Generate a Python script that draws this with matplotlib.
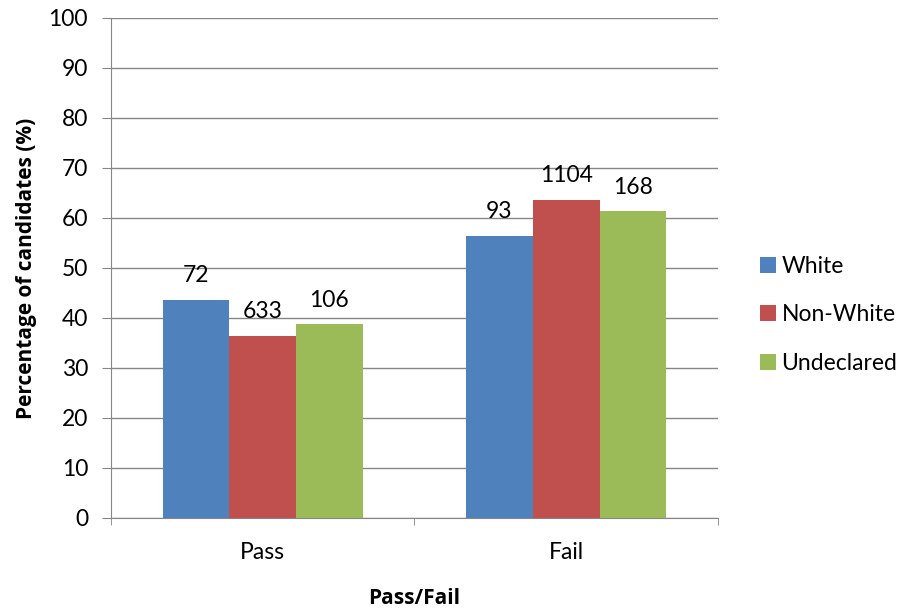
import matplotlib.pyplot as plt
import numpy as np

plt.rcParams['font.family'] = ['Lato', 'DejaVu Sans']

categories = ["Pass", "Fail"]
series_names = ["White", "Non-White", "Undeclared"]
white = [43.6, 56.4]
non_white = [36.4, 63.6]
undeclared = [38.7, 61.3]
white_counts = [72, 93]
non_white_counts = [633, 1104]
undeclared_counts = [106, 168]

colors = ["#4F81BD", "#C0504D", "#9BBB59"]
grid_col = "#868686"
fs = 16.5

fig = plt.figure(figsize=(9.11, 6.12), dpi=100)
ax = fig.add_axes([0.1218, 0.1536, 0.6663, 0.817])

x = np.arange(len(categories))
width = 0.22
values = [white, non_white, undeclared]
counts = [white_counts, non_white_counts, undeclared_counts]
for i, (vals, cnts) in enumerate(zip(values, counts)):
    pos = x + (i - 1) * width
    bars = ax.bar(pos, vals, width, color=colors[i], label=series_names[i], zorder=3)
    for b, c in zip(bars, cnts):
        ax.annotate(str(c), (b.get_x() + b.get_width() / 2, b.get_height()),
                    xytext=(0, 10), textcoords="offset points",
                    ha="center", va="bottom", fontsize=fs)

ax.set_xlim(-0.5, 1.5)
ax.set_ylim(0, 100)
ax.set_yticks(range(0, 101, 10))
ax.yaxis.grid(True, color=grid_col, linewidth=1, zorder=0)
ax.set_xticks(x)
ax.set_xticklabels(categories)
ax.set_xticks([-0.5, 0.5, 1.5], minor=True)
ax.tick_params(axis="x", which="major", length=0, pad=17, labelsize=fs)
ax.tick_params(axis="x", which="minor", length=5, color=grid_col, direction="out")
ax.tick_params(axis="y", length=6.5, color=grid_col, labelsize=fs, pad=10)

for s in ["top", "right"]:
    ax.spines[s].set_visible(False)
for s in ["left", "bottom"]:
    ax.spines[s].set_color(grid_col)

label_font = dict(fontsize=15, fontweight="bold", family=["Open Sans", "DejaVu Sans"])
ax.set_xlabel("Pass/Fail", labelpad=18, **label_font)
ax.set_ylabel("Percentage of candidates (%)", labelpad=8, **label_font)

ax.legend(loc="center left", bbox_to_anchor=(1.069, 0.406), frameon=False,
          fontsize=fs, handlelength=0.7, handleheight=0.7, labelspacing=1.2,
          handletextpad=0.25, borderpad=0, borderaxespad=0)

fig.savefig("out.png", dpi=100)
